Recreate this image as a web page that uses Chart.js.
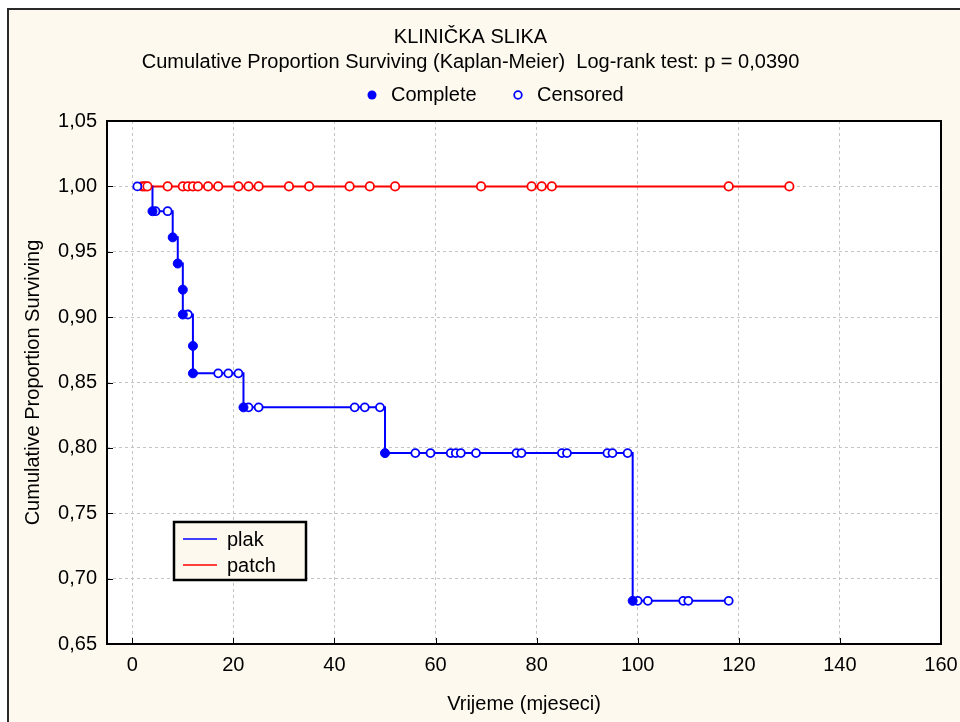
<!DOCTYPE html>
<html><head><meta charset="utf-8">
<script src="https://cdn.jsdelivr.net/npm/chart.js@4/dist/chart.umd.min.js"></script>
<style>html,body{margin:0;padding:0;background:#fff}</style>
</head><body>
<canvas id="c" width="960" height="722"></canvas>
<script>
// ---- texts ----
const chartTitle = 'KLINIČKA SLIKA';
const chartSubtitle = 'Cumulative Proportion Surviving (Kaplan-Meier)  Log-rank test: p = 0,0390';
const xTitle = 'Vrijeme (mjeseci)';
const yTitle = 'Cumulative Proportion Surviving';
const groupNames = ['plak', 'patch'];
const markerNames = ['Complete', 'Censored'];

// ---- ticks ----
const xTicks = [0, 20, 40, 60, 80, 100, 120, 140, 160];
const yTicks = [0.65, 0.70, 0.75, 0.80, 0.85, 0.90, 0.95, 1.00, 1.05];
const yTickLabels = ['0,65', '0,70', '0,75', '0,80', '0,85', '0,90', '0,95', '1,00', '1,05'];

// ---- plak (blue) ----
const plakStart = 1;
const plakEnd = 118;
const plakEventTimes = [4, 8, 9, 10, 10, 12, 12, 22, 50, 99];
const plakEventSurv  = [0.981, 0.961, 0.941, 0.921, 0.902, 0.878, 0.857, 0.831, 0.796, 0.683];
const plakCensTimes = [1, 4.6, 7, 11, 17, 19, 21, 23, 25, 44, 46, 49,
  56, 59, 63, 64, 65, 68, 76, 77, 85, 86, 94, 95, 98,
  100, 102, 109, 110, 118];
const plakCensSurv = [1.000, 0.981, 0.981, 0.902, 0.857, 0.857, 0.857, 0.831, 0.831, 0.831, 0.831, 0.831,
  0.796, 0.796, 0.796, 0.796, 0.796, 0.796, 0.796, 0.796, 0.796, 0.796, 0.796, 0.796, 0.796,
  0.683, 0.683, 0.683, 0.683, 0.683];

// ---- patch (red) ----
const patchCensTimes = [2, 2.5, 3, 7, 10, 11, 12, 13, 15, 17, 21, 23, 25, 31, 35, 43, 47, 52, 69, 79, 81, 83, 118, 130];
const patchCensSurv  = [1, 1, 1, 1, 1, 1, 1, 1, 1, 1, 1, 1, 1, 1, 1, 1, 1, 1, 1, 1, 1, 1, 1, 1];

const BLUE = '#0000ff', RED = '#ff0000';
const FONT = "'Liberation Sans', Arial, sans-serif";
const FS = 20;

const pts = (xs, ys) => xs.map((x, i) => ({x: x, y: ys[i]}));
const plakLine = [{x: plakStart, y: 1}].concat(pts(plakEventTimes, plakEventSurv),
  [{x: plakEnd, y: plakEventSurv[plakEventSurv.length - 1]}]);
const patchLine = [{x: patchCensTimes[0], y: patchCensSurv[0]},
  {x: patchCensTimes[patchCensTimes.length - 1], y: patchCensSurv[patchCensSurv.length - 1]}];

const decor = {
  id: 'decor',
  beforeDraw(chart) {
    const {ctx, chartArea: a} = chart;
    ctx.save();
    ctx.fillStyle = '#ffffff';
    ctx.fillRect(0, 0, chart.width, chart.height);
    ctx.fillStyle = '#fdf9ee';
    ctx.fillRect(8, 9, chart.width - 8, chart.height - 9);
    ctx.fillStyle = '#2a2a2a';
    ctx.fillRect(7, 8, chart.width - 7, 2);
    ctx.fillRect(7, 8, 2, chart.height - 8);
    ctx.fillStyle = '#ffffff';
    ctx.fillRect(a.left, a.top, a.right - a.left, a.bottom - a.top);
    ctx.restore();
  },
  afterDraw(chart) {
    const {ctx, chartArea: a, scales} = chart;
    ctx.save();
    // inner tick marks
    ctx.strokeStyle = '#000';
    ctx.lineWidth = 1;
    ctx.beginPath();
    xTicks.forEach(v => {
      const px = Math.round(scales.x.getPixelForValue(v)) + 0.5;
      ctx.moveTo(px, a.bottom); ctx.lineTo(px, a.bottom - 6);
    });
    yTicks.forEach(v => {
      const py = Math.round(scales.y.getPixelForValue(v)) + 0.5;
      ctx.moveTo(a.left, py); ctx.lineTo(a.left + 6, py);
    });
    ctx.stroke();
    // plot border
    ctx.lineWidth = 2;
    ctx.strokeRect(a.left, a.top, a.right - a.left, a.bottom - a.top);

    // top marker legend
    ctx.font = FS + 'px ' + FONT;
    ctx.textBaseline = 'middle';
    ctx.textAlign = 'left';
    ctx.fillStyle = BLUE;
    ctx.beginPath(); ctx.arc(372, 95, 4.5, 0, Math.PI * 2); ctx.fill();
    ctx.fillStyle = '#000';
    ctx.fillText(markerNames[0], 391, 95);
    ctx.strokeStyle = BLUE; ctx.lineWidth = 1.8; ctx.fillStyle = '#fff';
    ctx.beginPath(); ctx.arc(518, 95, 3.8, 0, Math.PI * 2); ctx.fill(); ctx.stroke();
    ctx.fillStyle = '#000';
    ctx.fillText(markerNames[1], 537, 95);

    // group legend box
    ctx.fillStyle = '#fdf9ee';
    ctx.fillRect(174, 522, 132, 58);
    ctx.strokeStyle = '#000'; ctx.lineWidth = 2.5;
    ctx.strokeRect(174, 522, 132, 58);
    ctx.lineWidth = 1.5;
    ctx.strokeStyle = BLUE;
    ctx.beginPath(); ctx.moveTo(183, 539); ctx.lineTo(217, 539); ctx.stroke();
    ctx.strokeStyle = RED;
    ctx.beginPath(); ctx.moveTo(183, 565); ctx.lineTo(217, 565); ctx.stroke();
    ctx.fillStyle = '#000';
    ctx.fillText(groupNames[0], 227, 540);
    ctx.fillText(groupNames[1], 227, 566);
    ctx.restore();
  }
};

new Chart(document.getElementById('c'), {
  type: 'scatter',
  data: {
    datasets: [
      { label: 'plak complete', data: pts(plakEventTimes, plakEventSurv), showLine: false,
        pointRadius: 4.5, pointBackgroundColor: BLUE, pointBorderColor: BLUE, pointBorderWidth: 1, order: 0 },
      { label: 'plak censored', data: pts(plakCensTimes, plakCensSurv), showLine: false,
        pointRadius: 4, pointBackgroundColor: '#fff', pointBorderColor: BLUE, pointBorderWidth: 1.8, order: 0 },
      { label: 'patch censored', data: pts(patchCensTimes, patchCensSurv), showLine: false,
        pointRadius: 4.2, pointBackgroundColor: '#fff', pointBorderColor: RED, pointBorderWidth: 1.8, order: 0 },
      { label: groupNames[0], data: plakLine, showLine: true, stepped: true, borderColor: BLUE,
        borderWidth: 2, pointRadius: 0, fill: false, order: 1 },
      { label: groupNames[1], data: patchLine, showLine: true, borderColor: RED,
        borderWidth: 2, pointRadius: 0, fill: false, order: 1 }
    ]
  },
  options: {
    responsive: false,
    animation: false,
    devicePixelRatio: 1,
    events: [],
    layout: { padding: { left: 0, right: 19, top: 0, bottom: 0 } },
    plugins: {
      legend: { display: false },
      tooltip: { enabled: false },
      title: { display: true, text: chartTitle, color: '#000',
        font: { family: FONT, size: FS, weight: 'normal' }, padding: { top: 25, bottom: 0 } },
      subtitle: { display: true, text: chartSubtitle, color: '#000',
        font: { family: FONT, size: FS, weight: 'normal' }, padding: { top: 1, bottom: 47 } }
    },
    scales: {
      x: {
        type: 'linear', min: -5, max: 160,
        afterBuildTicks: s => { s.ticks = xTicks.map(v => ({value: v})); },
        afterFit: s => { s.height = 78; s.paddingRight = 0; s.paddingLeft = 0; },
        grid: { color: '#c4c4c4', lineWidth: 1, drawTicks: false },
        border: { display: false, dash: [3, 3] },
        ticks: { color: '#000', padding: 9, font: { family: FONT, size: FS }, maxRotation: 0 },
        title: { display: true, text: xTitle, color: '#000', font: { family: FONT, size: FS },
          padding: { top: 0, bottom: 6 } }
      },
      y: {
        type: 'linear', min: 0.65, max: 1.05,
        afterBuildTicks: s => { s.ticks = yTicks.map(v => ({value: v})); },
        afterFit: s => { s.width = 107; },
        grid: { color: '#c4c4c4', lineWidth: 1, drawTicks: false },
        border: { display: false, dash: [3, 3] },
        ticks: { color: '#000', padding: 10, font: { family: FONT, size: FS },
          callback: (v, i) => yTickLabels[i] },
        title: { display: true, text: yTitle, color: '#000', font: { family: FONT, size: FS },
          padding: { top: 21, bottom: 0 } }
      }
    }
  },
  plugins: [decor]
});
</script>
</body></html>
